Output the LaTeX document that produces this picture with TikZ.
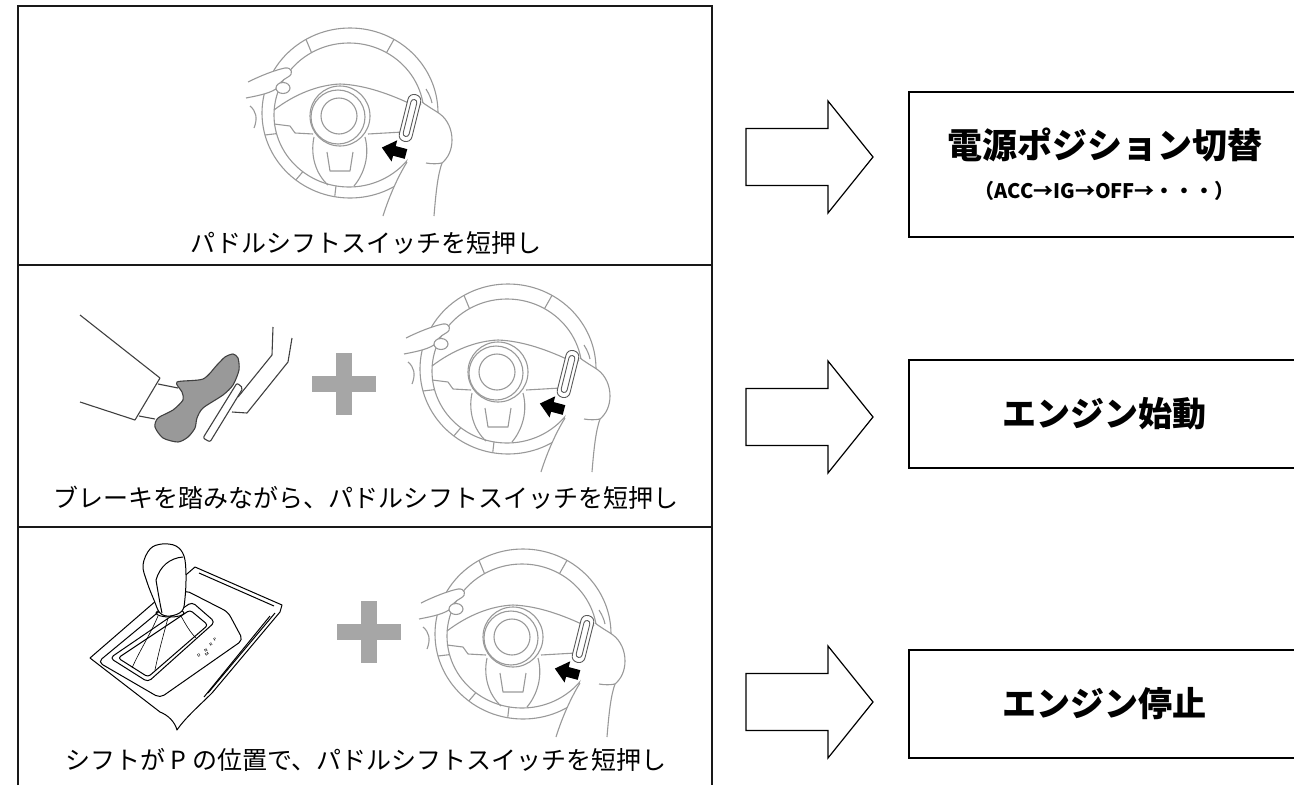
\documentclass[tikz,border=0pt]{standalone}
\usepackage{fontspec}
\newfontfamily\jp{Noto Sans CJK JP}
\usetikzlibrary{positioning}

\begin{document}
\begin{tikzpicture}[x=1pt, y=-1pt, node distance=35pt,
  panel line/.style={line width=1.6pt, draw=black!90},
  label node/.style={font=\jp\fontsize{25}{30}\selectfont, inner sep=0pt},
  result node/.style={draw, line width=1.6pt, minimum width=392pt, inner sep=0pt,
    align=center, font=\jp\bfseries},
  wheel line/.style={draw=black!40, line width=1.1pt, line join=round},
  paddle line/.style={draw=black!65, line width=0.9pt},
  foot line/.style={draw=black!75, line width=1.1pt, line join=round},
  shift line/.style={draw=black, line width=1pt, line join=round},
  gate letter/.style={font=\sffamily\bfseries\fontsize{4}{4}\selectfont, inner sep=0pt, rotate=35},
  plus sign/.style={fill=black!35},
  block arrow/.pic={
    \draw[line width=1.2pt, fill=white] (0,-28.5) -- (82,-28.5) -- (82,-56) -- (127,0)
      -- (82,56) -- (82,28.5) -- (0,28.5) -- cycle;
    \coordinate (-tip) at (127,0);
  },
  steering wheel/.pic={
    % rim
    \draw[wheel line] (10,-3) ellipse [x radius=88, y radius=85];
    \draw[wheel line] (9,-1) ellipse [x radius=75, y radius=72];
    \foreach \a in {-120,-60,165,128,100}
      \draw[wheel line] ([shift={(10,-3)}]\a:88 and 85) -- ([shift={(9,-1)}]\a:75 and 72);
    % spokes
    \draw[wheel line] (-66,-6) .. controls (-45,-22) and (-22,-31) .. (0,-32)
      .. controls (25,-31) and (50,-22) .. (75,-10) -- (84,-12);
    \draw[wheel line] (-66,8) -- (-50,10) -- (-45,17) -- (-27,18);
    \draw[wheel line] (28,18) -- (80,15);
    \draw[wheel line] (-26,21) .. controls (-30,40) and (-24,58) .. (-12,69);
    \draw[wheel line] (25,21) .. controls (30,40) and (24,58) .. (14,70);
    \draw[wheel line] (-13,36) -- (-10,55) -- (10,55) -- (13,36);
    % hub
    \draw[wheel line, fill=white] (0,0) circle [radius=30];
    \draw[wheel line] (-2,1) circle [radius=27];
    \draw[wheel line] (-1,0) circle [radius=18];
    % left hand
    \filldraw[wheel line, fill=white] (-92,-34) .. controls (-80,-40) and (-65,-46) .. (-55,-48)
      .. controls (-48,-49) and (-46,-42) .. (-52,-39) .. controls (-58,-36) and (-62,-31) .. (-64,-27)
      .. controls (-72,-22) and (-84,-20) .. (-94,-18);
    \filldraw[wheel line, fill=white] (-57,-28) ellipse [x radius=7, y radius=5.5];
    \draw[wheel line] (-90,-10) .. controls (-84,-5) and (-82,2) .. (-86,12);
    % right hand
    \fill[white] (82,-14) .. controls (90,-8) and (96,-5) .. (100,-2)
      .. controls (108,4) and (112,14) .. (112,24) .. controls (112,34) and (108,42) .. (102,47)
      .. controls (98,58) and (96,75) .. (94,100) -- (43,100)
      .. controls (48,84) and (56,64) .. (67,46) -- (72,22) -- cycle;
    \draw[wheel line] (82,-14) .. controls (90,-8) and (96,-5) .. (100,-2)
      .. controls (108,4) and (112,14) .. (112,24) .. controls (112,34) and (108,42) .. (102,47)
      .. controls (98,58) and (96,75) .. (94,100);
    \draw[wheel line] (43,100) .. controls (48,84) and (56,64) .. (67,46);
    \draw[wheel line] (86,-27) .. controls (89,-22) and (91,-18) .. (92,-13);
    \draw[wheel line] (86,47) .. controls (92,48) and (97,48) .. (102,47);
    % paddle
    \filldraw[paddle line, fill=white, rounded corners=6, rotate around={76:(70,2)}]
      (46,-4.5) rectangle (94,8.5);
    \draw[paddle line, rounded corners=3, rotate around={76:(70,2)}] (51,-1) rectangle (89,5);
    % push arrow
    \fill[black, shift={(66,38)}, rotate=165] (0,-5) -- (12,-5) -- (12,-11) -- (25,0)
      -- (12,11) -- (12,5) -- (0,5) -- cycle;
  }
]
\useasboundingbox (0,0) rectangle (1294,785);

% left panel
\draw[panel line] (18,785) -- (18,6) -- (712,6) -- (712,785);
\draw[panel line] (18,265) -- (712,265);
\draw[panel line] (18,527) -- (712,527);

% row 1
\pic (w1) at (340,116) {steering wheel};
\node[label node] (lab1) at (366,243) {パドルシフトスイッチを短押し};

% row 2: brake pedal
\draw[foot line] (80,315) -- (160,378) -- (135,420) -- (80,402);
\draw[foot line] (158,384) -- (178,388);
\draw[foot line] (139,416) -- (155,419);
\filldraw[foot line, fill=black!40] plot[smooth cycle, tension=0.45] coordinates {
  (177,382) (203,379) (217,365) (225,357) (233,354) (238,358) (239,370) (233,385)
  (223,395) (203,408) (197,418) (195,428) (188,437) (178,442) (163,438) (155,427)
  (158,418) (173,410) (183,400) (182,392)};
\draw[foot line] (238,397) -- (272,355) -- (273,327);
\draw[foot line] (232,412) -- (247,413) -- (288,362) -- (292,338);
\filldraw[foot line, fill=white, rounded corners=2] (203,438) -- (210,442) -- (243,388) -- (237,383) -- cycle;
\coordinate (plus2) at (344,384);
\fill[plus sign] (plus2) ++(-32,-8) rectangle ++(64,16);
\fill[plus sign] (plus2) ++(-8,-31) rectangle ++(16,62);
\pic (w2) at (498,372) {steering wheel};
\node[label node] (lab2) at (366,498) {ブレーキを踏みながら、パドルシフトスイッチを短押し};

% row 3: shift lever
\draw[shift line, fill=white] (90,658) -- (195,567) -- (282,605) -- (280,612) -- (212,693)
  .. controls (200,705) and (185,718) .. (177,730) .. controls (175,722) and (168,715) .. (160,712) -- cycle;
\draw[shift line] (199,573) -- (274,606);
\draw[shift line] (275,613) -- (208,693);
\draw[shift line] (270,616) -- (204,697);
\draw[shift line, rounded corners=5] (98,662) -- (185,590) -- (228,612) -- (243,640) -- (160,698) -- cycle;
\draw[shift line, rounded corners=4] (110,658) -- (192,602) -- (215,622) -- (148,682) -- cycle;
\draw[shift line, rounded corners=3] (118,658) -- (190,610) -- (208,625) -- (148,677) -- cycle;
\node[gate letter] (gP) at (215,640) {P};
\node[gate letter] (gR) at (211,645) {R};
\node[gate letter] (gN) at (206,650) {N};
\node[gate letter] (gD) at (199,655) {D};
\node[gate letter] (gM) at (207,654) {M};
\draw[shift line] (170,613) ellipse [x radius=14, y radius=4];
\draw[shift line, line width=0.6pt] (158,616) .. controls (150,635) and (140,650) .. (132,668);
\draw[shift line, line width=0.6pt] (168,618) .. controls (162,640) and (158,655) .. (155,670);
\draw[shift line, line width=0.6pt] (181,616) .. controls (186,625) and (190,632) .. (196,638);
\filldraw[shift line, fill=white] plot[smooth cycle, tension=0.6] coordinates {
  (143,565) (150,549) (162,544) (176,546) (184,556) (186,575) (185,598) (182,611)
  (170,616) (160,613) (154,600) (147,582)};
\draw[shift line] (156,580) .. controls (160,566) and (170,558) .. (183,557);
\draw[shift line] (156,580) .. controls (158,592) and (160,604) .. (162,613);
\coordinate (plus3) at (369,632);
\fill[plus sign] (plus3) ++(-32,-8) rectangle ++(64,16);
\fill[plus sign] (plus3) ++(-8,-31) rectangle ++(16,62);
\pic (w3) at (513,637) {steering wheel};
\node[label node] (lab3) at (366,760) {シフトが P の位置で、パドルシフトスイッチを短押し};

% arrows and results
\pic (a1) at (746,157) {block arrow};
\pic (a2) at (746,417) {block arrow};
\pic (a3) at (746,702) {block arrow};

\node[result node, minimum height=145pt, right=35pt of a1-tip, yshift=-7.5pt,
  font=\jp\bfseries\fontsize{35}{40}\selectfont] (res1)
  {電源ポジション切替\\{\fontsize{20}{24}\selectfont （ACC→IG→OFF→・・・）}};
\node[result node, minimum height=108pt, right=35pt of a2-tip, yshift=3pt,
  font=\jp\bfseries\fontsize{34}{40}\selectfont] (res2) {エンジン始動};
\node[result node, minimum height=108pt, right=35pt of a3-tip, yshift=-2pt,
  font=\jp\bfseries\fontsize{34}{40}\selectfont] (res3) {エンジン停止};

\end{tikzpicture}
\end{document}
